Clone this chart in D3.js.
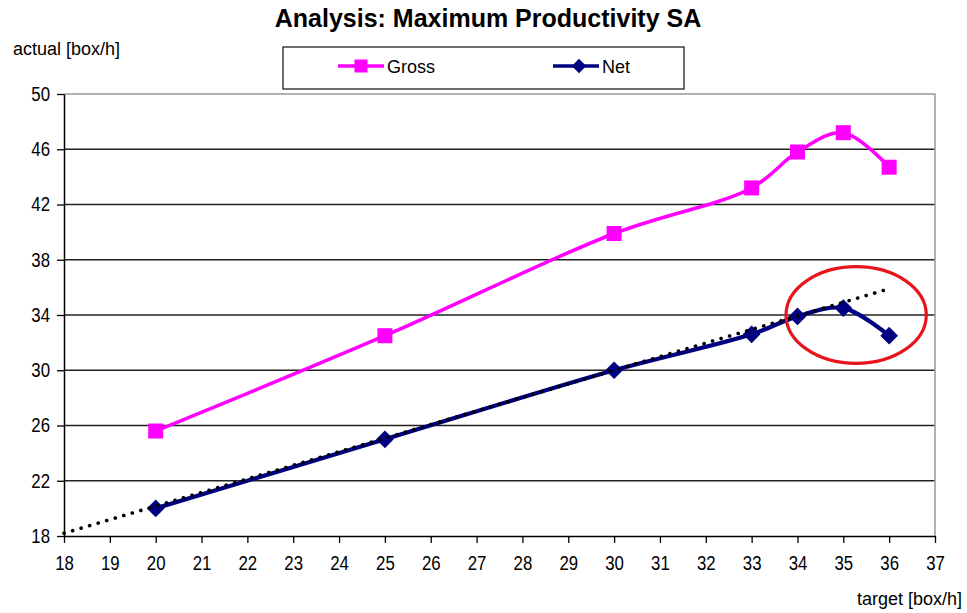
<!DOCTYPE html>
<html>
<head>
<meta charset="utf-8">
<script src="https://cdn.jsdelivr.net/npm/d3@7/dist/d3.min.js"></script>
<style>
  html, body { margin: 0; padding: 0; background: #fff; }
  svg { display: block; font-family: Arial, "Liberation Sans", sans-serif; }
</style>
</head>
<body>
<svg id="chart" width="967" height="613"></svg>
<script>
// Target rate (box/h) on the x axis
const targets = [20, 25, 30, 33, 34, 35, 36];
// Achieved rates (box/h)
const gross = [25.6, 32.5, 39.9, 43.2, 45.8, 47.2, 44.7];
const net = [20.0, 25.0, 30.0, 32.6, 33.9, 34.5, 32.5];
// Linear trend of the net rate, extended back to the axis origin
const trendX = [18, 36];
const trendY = [18.2, 35.9];
// Highlighted region around the drop-off (centre and radii in data units)
const markCenter = [35.28, 34.0];
const markRadius = [1.53, 3.5];
// Axis ticks
const xTicks = d3.range(18, 38, 1);
const yTicks = [18, 22, 26, 30, 34, 38, 42, 46, 50];
const seriesNames = ["Gross", "Net"];

const svg = d3.select("#chart");
const plot = { left: 64, right: 935, top: 94, bottom: 536 };

const x = d3.scaleLinear().domain([18, 37]).range([plot.left, plot.right]);
const y = d3.scaleLinear().domain([18, 50]).range([plot.bottom, plot.top]);

// Title and axis titles
svg.append("text")
  .attr("x", 488).attr("y", 27)
  .attr("text-anchor", "middle")
  .attr("font-size", 25).attr("font-weight", "bold")
  .attr("fill", "#000")
  .text("Analysis: Maximum Productivity SA");

svg.append("text")
  .attr("x", 13).attr("y", 55)
  .attr("font-size", 18).attr("fill", "#000")
  .text("actual [box/h]");

svg.append("text")
  .attr("x", 962).attr("y", 605)
  .attr("text-anchor", "end")
  .attr("font-size", 18).attr("fill", "#000")
  .text("target [box/h]");

// Horizontal gridlines
svg.append("g")
  .selectAll("line")
  .data(yTicks.filter(v => v !== 18 && v !== 50))
  .join("line")
  .attr("x1", plot.left).attr("x2", plot.right)
  .attr("y1", d => y(d)).attr("y2", d => y(d))
  .attr("stroke", "#222").attr("stroke-width", 1.3);

// Plot area top and right border
svg.append("path")
  .attr("d", `M${plot.left},${y(50)}H${plot.right}V${plot.bottom}`)
  .attr("fill", "none")
  .attr("stroke", "#999").attr("stroke-width", 1.5);

// Axes
const yAxis = svg.append("g")
  .attr("transform", `translate(${plot.left},0)`)
  .call(d3.axisLeft(y).tickValues(yTicks).tickSize(7).tickPadding(7).tickSizeOuter(0));
const xAxis = svg.append("g")
  .attr("transform", `translate(0,${plot.bottom})`)
  .call(d3.axisBottom(x).tickValues(xTicks).tickSize(7).tickPadding(13).tickSizeOuter(0));

[yAxis, xAxis].forEach(g => {
  g.select(".domain").attr("stroke", "#000").attr("stroke-width", 1.5);
  g.selectAll(".tick line").attr("stroke", "#000").attr("stroke-width", 1.3);
  g.selectAll(".tick text")
    .attr("font-size", 20)
    .attr("font-family", "Arial, 'Liberation Sans', sans-serif")
    .attr("fill", "#000")
    .each(function () {
      // narrow digits for the tick labels
      const w = this.getComputedTextLength();
      d3.select(this)
        .attr("textLength", (w * 0.84).toFixed(2))
        .attr("lengthAdjust", "spacingAndGlyphs");
    });
});

// Series
const grossPts = targets.map((t, i) => [t, gross[i]]);
const netPts = targets.map((t, i) => [t, net[i]]);

const smooth = d3.line()
  .x(d => x(d[0])).y(d => y(d[1]))
  .curve(d3.curveCatmullRom.alpha(0.5));

svg.append("path")
  .datum(grossPts)
  .attr("d", smooth)
  .attr("fill", "none")
  .attr("stroke", "#ff00ff").attr("stroke-width", 3.5);

svg.append("path")
  .datum(netPts)
  .attr("d", smooth)
  .attr("fill", "none")
  .attr("stroke", "#000080").attr("stroke-width", 4.2);

// Gross markers: squares
const sq = 15;
svg.append("g")
  .selectAll("rect")
  .data(grossPts)
  .join("rect")
  .attr("x", d => x(d[0]) - sq / 2)
  .attr("y", d => y(d[1]) - sq / 2)
  .attr("width", sq).attr("height", sq)
  .attr("fill", "#ff00ff");

// Net markers: diamonds
const diamond = d3.symbol().type(d3.symbolDiamond2).size(200);
svg.append("g")
  .selectAll("path")
  .data(netPts)
  .join("path")
  .attr("transform", d => `translate(${x(d[0])},${y(d[1])})`)
  .attr("d", diamond)
  .attr("fill", "#000080");

// Dotted linear trend
svg.append("line")
  .attr("x1", x(trendX[0])).attr("y1", y(trendY[0]))
  .attr("x2", x(trendX[1])).attr("y2", y(trendY[1]))
  .attr("stroke", "#000")
  .attr("stroke-width", 3.6)
  .attr("stroke-dasharray", "0.1,8.8")
  .attr("stroke-linecap", "round");

// Highlight ellipse
svg.append("ellipse")
  .attr("cx", x(markCenter[0])).attr("cy", y(markCenter[1]))
  .attr("rx", x(markCenter[0] + markRadius[0]) - x(markCenter[0]))
  .attr("ry", y(markCenter[1]) - y(markCenter[1] + markRadius[1]))
  .attr("fill", "none")
  .attr("stroke", "#e8141b").attr("stroke-width", 3.2);

// Legend
const legend = svg.append("g");
legend.append("rect")
  .attr("x", 283).attr("y", 47)
  .attr("width", 401).attr("height", 42)
  .attr("fill", "#fff")
  .attr("stroke", "#222").attr("stroke-width", 1.3);

const legendItems = [
  { name: seriesNames[0], color: "#ff00ff", x0: 338, shape: "square" },
  { name: seriesNames[1], color: "#000080", x0: 553, shape: "diamond" }
];
const ly = 66;
legendItems.forEach(it => {
  legend.append("line")
    .attr("x1", it.x0).attr("x2", it.x0 + 46)
    .attr("y1", ly).attr("y2", ly)
    .attr("stroke", it.color).attr("stroke-width", 3.5);
  if (it.shape === "square") {
    legend.append("rect")
      .attr("x", it.x0 + 23 - 6.5).attr("y", ly - 6.5)
      .attr("width", 13).attr("height", 13)
      .attr("fill", it.color);
  } else {
    legend.append("path")
      .attr("transform", `translate(${it.x0 + 26},${ly})`)
      .attr("d", d3.symbol().type(d3.symbolDiamond2).size(130))
      .attr("fill", it.color);
  }
  legend.append("text")
    .attr("x", it.x0 + 49).attr("y", ly + 7)
    .attr("font-size", 18).attr("fill", "#000")
    .text(it.name);
});
</script>
</body>
</html>
